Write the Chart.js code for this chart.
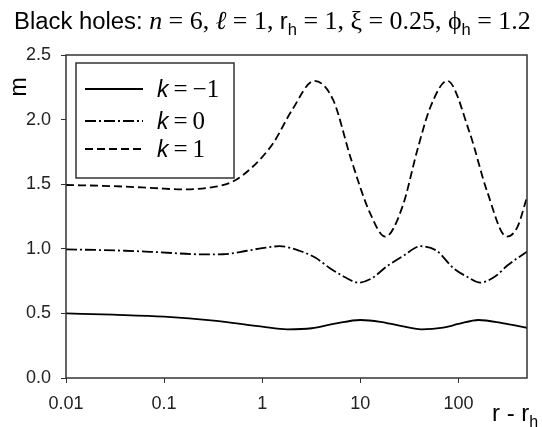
<!DOCTYPE html>
<html><head><meta charset="utf-8">
<script src="https://cdn.jsdelivr.net/npm/chart.js@4"></script>
<style>html,body{margin:0;padding:0;background:#fff;}#wrap{position:relative;width:542px;height:427px;}</style>
</head><body><div id="wrap"><canvas id="c" width="542" height="427"></canvas></div>
<script>
// ---- data ----
const xTicks = [0.01, 0.1, 1, 10, 100];
const xTickLabels = ['0.01', '0.1', '1', '10', '100'];
const yTickStep = 0.5;
const seriesNames = ['k = −1', 'k = 0', 'k = 1'];

// k = -1 (solid)
const rKm1 = [0.01, 0.03, 0.1, 0.32, 1.0, 1.8, 3.2, 5.5, 10, 16, 25, 42, 70, 100, 160, 280, 500];
const mKm1 = [0.50, 0.49, 0.475, 0.444, 0.397, 0.377, 0.385, 0.42, 0.449, 0.435, 0.405, 0.377, 0.39, 0.418, 0.449, 0.425, 0.389];

// k = 0 (dash-dot)
const rK0 = [0.01, 0.04, 0.09, 0.25, 0.4, 0.7, 1.0, 1.5, 2.4, 3.5, 4.9, 7, 9.5, 13, 18.7, 28, 41, 60, 89, 125, 167, 240, 320, 500];
const mK0 = [0.996, 0.985, 0.973, 0.957, 0.958, 0.985, 1.005, 1.02, 0.985, 0.93, 0.85, 0.78, 0.738, 0.77, 0.865, 0.95, 1.02, 0.985, 0.85, 0.78, 0.738, 0.79, 0.875, 0.978];

// k = 1 (dashed)
const rK1 = [0.01, 0.03, 0.08, 0.15, 0.3, 0.5, 0.8, 1.3, 2.0, 3.4, 5.3, 8, 12.5, 18, 27, 38, 52, 77, 130, 195, 310, 400, 500];
const mK1 = [1.494, 1.485, 1.47, 1.46, 1.475, 1.52, 1.635, 1.82, 2.07, 2.30, 2.15, 1.70, 1.28, 1.094, 1.33, 1.76, 2.10, 2.30, 1.90, 1.45, 1.094, 1.17, 1.40];

const pts = (xs, ys) => xs.map((x, i) => ({x: x, y: ys[i]}));
const DASHES = [[], [11, 3, 2, 3], [8, 4]];
const SANS = '"Liberation Sans", Arial, sans-serif';
const SERIF = '"Liberation Serif", "Times New Roman", serif';

function piecesWidth(ctx, pieces, k) {
  let w = 0;
  for (const p of pieces) {
    ctx.font = (p.style || '') + ' ' + (p.size * k) + 'px ' + p.fam;
    w += ctx.measureText(p.t).width + (p.gap || 0);
  }
  return w;
}
function drawPieces(ctx, pieces, x, y, k) {
  k = k || 1;
  for (const p of pieces) {
    ctx.font = (p.style || '') + ' ' + (p.size * k) + 'px ' + p.fam;
    ctx.fillText(p.t, x, y + (p.dy || 0));
    x += ctx.measureText(p.t).width + (p.gap || 0);
  }
  return x;
}

const decor = {
  id: 'decor',
  afterDatasetsDraw(chart) {
    const ctx = chart.ctx, a = chart.chartArea;
    ctx.save();
    // frame
    ctx.strokeStyle = '#333'; ctx.lineWidth = 1.5; ctx.setLineDash([]);
    ctx.strokeRect(a.left, a.top, a.right - a.left, a.bottom - a.top);
    // legend box
    const lx = 76, ly = 63, lw = 158, lh = 115;
    ctx.fillStyle = '#fff'; ctx.fillRect(lx, ly, lw, lh);
    ctx.strokeRect(lx, ly, lw, lh);
    const rows = [89, 121, 149];
    const rhs = [['=', '−1'], ['=', '0'], ['=', '1']];
    ctx.fillStyle = '#000'; ctx.textBaseline = 'alphabetic'; ctx.textAlign = 'left';
    rows.forEach((ry, i) => {
      ctx.strokeStyle = '#000'; ctx.lineWidth = 1.8; ctx.setLineDash(DASHES[i]);
      ctx.beginPath(); ctx.moveTo(85, ry); ctx.lineTo(143, ry); ctx.stroke();
      ctx.setLineDash([]);
      drawPieces(ctx, [
        {t: 'k', style: 'italic', size: 23, fam: SANS, gap: 5},
        {t: rhs[i][0], size: 25, fam: SERIF, gap: 5},
        {t: rhs[i][1], size: 25, fam: SERIF}
      ], 157, ry + 8);
    });
    ctx.restore();
  },
  afterDraw(chart) {
    const ctx = chart.ctx;
    ctx.save();
    ctx.fillStyle = '#000'; ctx.textBaseline = 'alphabetic'; ctx.textAlign = 'left';
    // title
    const title = [
      {t: 'Black holes: ', size: 23, fam: SANS},
      {t: 'n', style: 'italic', size: 25, fam: SERIF}, {t: ' = 6, ', size: 25, fam: SERIF},
      {t: 'ℓ', style: 'italic', size: 25, fam: SERIF}, {t: ' = 1, ', size: 25, fam: SERIF},
      {t: 'r', size: 23, fam: SANS}, {t: 'h', size: 16, fam: SANS, dy: 6}, {t: ' = 1, ξ = 0.25, ', size: 25, fam: SERIF},
      {t: 'ϕ', size: 25, fam: SERIF}, {t: 'h', size: 16, fam: SANS, dy: 6}, {t: ' = 1.2', size: 25, fam: SERIF}
    ];
    const k = 517 / piecesWidth(ctx, title, 1);
    drawPieces(ctx, title, 14, 29, Math.min(1.15, k));
    // x axis title
    drawPieces(ctx, [
      {t: 'r - r', size: 24, fam: SANS},
      {t: 'h', size: 16, fam: SANS, dy: 6}
    ], 492, 421);
    // y axis title
    ctx.translate(26, 87); ctx.rotate(-Math.PI / 2);
    ctx.font = '23px ' + SANS; ctx.textAlign = 'center';
    ctx.fillText('m', 0, 0);
    ctx.restore();
  }
};

const tickFont = {family: SANS, size: 18};
new Chart(document.getElementById('c'), {
  type: 'line',
  data: {
    datasets: [
      {label: seriesNames[0], data: pts(rKm1, mKm1), borderDash: DASHES[0]},
      {label: seriesNames[1], data: pts(rK0, mK0), borderDash: DASHES[1]},
      {label: seriesNames[2], data: pts(rK1, mK1), borderDash: DASHES[2]}
    ].map(d => Object.assign(d, {borderColor: '#000', borderWidth: 1.8, pointRadius: 0, fill: false, cubicInterpolationMode: 'monotone'}))
  },
  options: {
    responsive: false, animation: false, devicePixelRatio: 1,
    layout: {padding: {top: 55, right: 15, left: 0, bottom: 0}},
    plugins: {legend: {display: false}, title: {display: false}, tooltip: {enabled: false}},
    scales: {
      x: {
        type: 'logarithmic', min: 0.01, max: 500,
        afterBuildTicks: s => { s.ticks = xTicks.map(v => ({value: v})); },
        afterFit: s => { s.height = 49; },
        ticks: {callback: (v, i) => xTickLabels[i], font: tickFont, color: '#222', padding: 10, maxRotation: 0, autoSkip: false},
        grid: {display: true, drawOnChartArea: false, drawTicks: true, tickLength: 5, color: '#333'},
        border: {display: false}
      },
      y: {
        min: 0, max: 2.5,
        afterFit: s => { s.width = 66; },
        ticks: {stepSize: yTickStep, callback: v => v.toFixed(1), font: tickFont, color: '#222', padding: 10},
        grid: {display: true, drawOnChartArea: false, drawTicks: true, tickLength: 5, color: '#333'},
        border: {display: false}
      }
    }
  },
  plugins: [decor]
});
</script></body></html>
